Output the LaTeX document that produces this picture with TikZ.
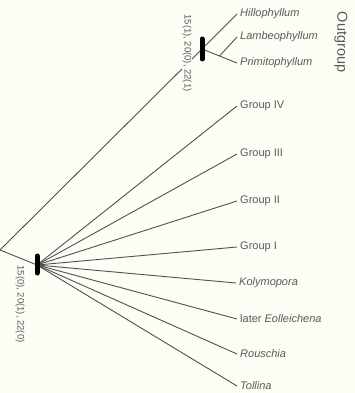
\documentclass[tikz,border=0pt]{standalone}
\usepackage{fontspec}
\setmainfont{Liberation Sans}
\usetikzlibrary{calc}
\definecolor{paper}{RGB}{253,253,246}
\definecolor{ink}{RGB}{80,80,80}
\definecolor{txt}{RGB}{90,90,90}
\tikzset{
  branch/.style={draw=ink, line width=0.9pt},
  synapo/.style={draw=black, line width=5pt, line cap=round},
  taxon/.style={anchor=west, inner sep=3pt, text=txt, font=\fontsize{11}{13}\selectfont},
  charlabel/.style={rotate=-90, inner sep=1pt, fill=paper, text=txt, font=\fontsize{9.5}{11}\selectfont},
}
\begin{document}
\begin{tikzpicture}[x=1pt, y=-1pt]
  \fill[paper] (0,0) rectangle (355,393);
  \useasboundingbox (0,0) rectangle (355,393);

  % internal nodes
  \coordinate (root) at (0,250);
  \coordinate (up) at (202,49);
  \coordinate (lo) at (37,265);

  % terminal taxa
  \node[taxon] (hill) at (237,14) {\itshape Hillophyllum};
  \node[taxon] (lamb) at (237,37) {\itshape Lambeophyllum};
  \node[taxon] (prim) at (237,63) {\itshape Primitophyllum};
  \node[taxon] (g4) at (237,106) {Group IV};
  \node[taxon] (g3) at (237,154) {Group III};
  \node[taxon] (g2) at (237,201) {Group II};
  \node[taxon] (g1) at (237,247) {Group I};
  \node[taxon] (koly) at (236,283) {\itshape Kolymopora};
  \node[taxon] (eoll) at (237,319) {later \itshape Eolleichena};
  \node[taxon] (rous) at (237,354) {\itshape Rouschia};
  \node[taxon] (toll) at (237,386) {\itshape Tollina};

  \node[rotate=-90, inner sep=0pt, text=txt, font=\fontsize{14.5}{16}\selectfont] (out) at (341,42) {Outgroup};

  % backbone
  \draw[branch] (up) -- (root) -- (lo);

  % outgroup clade
  \draw[branch] (up) -- (hill.west);
  \draw[branch] (up) -- (prim.west);
  \coordinate (lp) at ($(up)!0.5!(prim.west)$);
  \draw[branch] (lp) -- (lamb.west);

  % ingroup fan
  \foreach \t in {g4,g3,g2,g1,koly,eoll,rous,toll}
    \draw[branch] (lo) -- (\t.west);

  % character changes
  \draw[synapo] (202,39) -- (202,59);
  \draw[synapo] (37,256) -- (37,273);
  \node[charlabel] (c1) at (187,53) {15(1), 20(0), 22(1)};
  \node[charlabel] (c2) at (20,304) {15(0), 20(1), 22(0)};
\end{tikzpicture}
\end{document}
